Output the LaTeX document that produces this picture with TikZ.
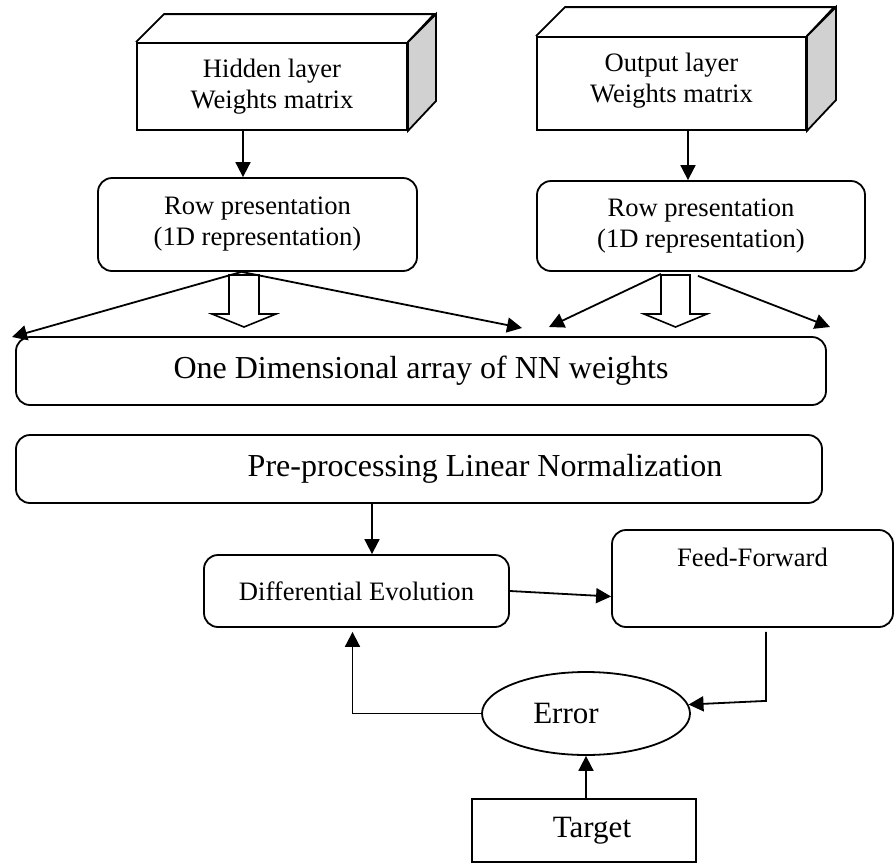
\documentclass[tikz,border=0pt]{standalone}
\usepackage{fontspec}
\setmainfont{Liberation Serif}
\usetikzlibrary{arrows.meta,shapes.geometric}

\begin{document}
\begin{tikzpicture}[x=0.5pt,y=-0.5pt,line width=0.9pt,
  arr/.style={-{Triangle[length=7.5pt,width=7.5pt]}},
  face/.style={draw,fill=white,inner sep=0pt,align=center,font=\fontsize{13.3}{15.5}\selectfont},
  rowbox/.style={draw,rounded corners=7pt,inner sep=0pt,align=center,font=\fontsize{13.3}{15.5}\selectfont},
  bigbox/.style={draw,rounded corners=7pt,inner sep=0pt,font=\fontsize{16}{19}\selectfont},
  hollow/.style={draw,fill=white,line width=0.8pt}]
\useasboundingbox (0,0) rectangle (896,863);

% weight matrices (boxes with depth)
\node [face,minimum width=135pt,minimum height=43.5pt] (hid) at (272,86.5) {Hidden layer\\Weights matrix};
\draw (hid.north west) -- ++(28,-28) -- ++(270,0) -- (hid.north east);
\draw [fill=black!18] (hid.north east) -- ++(28,-28) -- ++(0,87) -- (hid.south east) -- cycle;
\node [face,minimum width=134.5pt,minimum height=46.5pt,text depth=6pt] (out) at (671.5,83.5) {Output layer\\Weights matrix};
\draw (out.north west) -- ++(29,-29) -- ++(269,0) -- (out.north east);
\draw [fill=black!18] (out.north east) -- ++(29,-29) -- ++(0,93) -- (out.south east) -- cycle;

% row presentation
\node [rowbox,minimum width=159.5pt,minimum height=46.5pt] (rowh) at (257.5,224.5) {Row presentation\\(1D representation)};
\node [rowbox,minimum width=164pt,minimum height=45pt] (rowo) at (701,226) {Row presentation\\(1D representation)};
\draw [arr] ([xshift=-14.5pt]hid.south) -- ([xshift=-14.5pt]hid.south |- rowh.north);
\draw [arr] ([xshift=8.25pt]out.south) -- ([xshift=8.25pt]out.south |- rowo.north);

% arrays
\node [bigbox,minimum width=405pt,minimum height=34pt] (arr1d) at (421,371) {One Dimensional array of NN weights};
\node [bigbox,minimum width=403pt,minimum height=34pt] (pre) at (419,469) {\hspace*{66pt}Pre-processing Linear Normalization};

% hollow arrows
\draw [hollow] (229,275) -- (259,275) -- (259,314) -- (276,314) -- (244,327) -- (212,314) -- (229,314) -- cycle;
\draw [hollow] (661,275) -- (690,275) -- (690,314) -- (707,314) -- (675.5,327) -- (644,314) -- (661,314) -- cycle;

% spreading arrows
\coordinate (hl) at (12,337);
\coordinate (hr) at (522,328);
\coordinate (ol) at (549,327);
\coordinate (or) at (830,327);
\draw [arr] ([xshift=-8pt]rowh.south) -- (hl);
\draw [arr] ([xshift=-8pt]rowh.south) -- (hr);
\draw [arr] ([xshift=-20pt,yshift=-1pt]rowo.south) -- (ol);
\draw [arr] ([xshift=-1.5pt,yshift=-2pt]rowo.south) -- (or);

% training loop
\node [rowbox,minimum width=152.5pt,minimum height=36pt] (de) at (356.5,591) {Differential Evolution};
\node [rowbox,minimum width=140.5pt,minimum height=48.5pt,
  label={[anchor=north,inner sep=0pt,yshift=-9pt,font=\fontsize{13.3}{15.5}\selectfont]north:Feed-Forward}] (ff) at (752.5,578.5) {};
\node [draw,ellipse,inner sep=0pt,minimum width=104pt,minimum height=41.5pt,font=\fontsize{15.5}{18}\selectfont] (err) at (586,713.5) {Error\hspace*{20pt}};
\node [draw,inner sep=0pt,minimum width=112pt,minimum height=31.5pt,font=\fontsize{15.5}{18}\selectfont] (tgt) at (584,830.5) {\hspace*{8pt}Target};

\draw [arr] ([xshift=-23.5pt]pre.south) -- ([xshift=-23.5pt]pre.south |- de.north);
\draw [arr] (de.east) -- ([yshift=-9pt]ff.west);
\draw [arr] ([xshift=6.75pt,yshift=-2pt]ff.south) -- ++(0,69) -- (err.5);
\draw [arr] (err.west) -| ([xshift=-2pt,yshift=-2pt]de.south);
\draw [arr] (tgt.north -| err.south) -- (err.south);
\end{tikzpicture}
\end{document}
